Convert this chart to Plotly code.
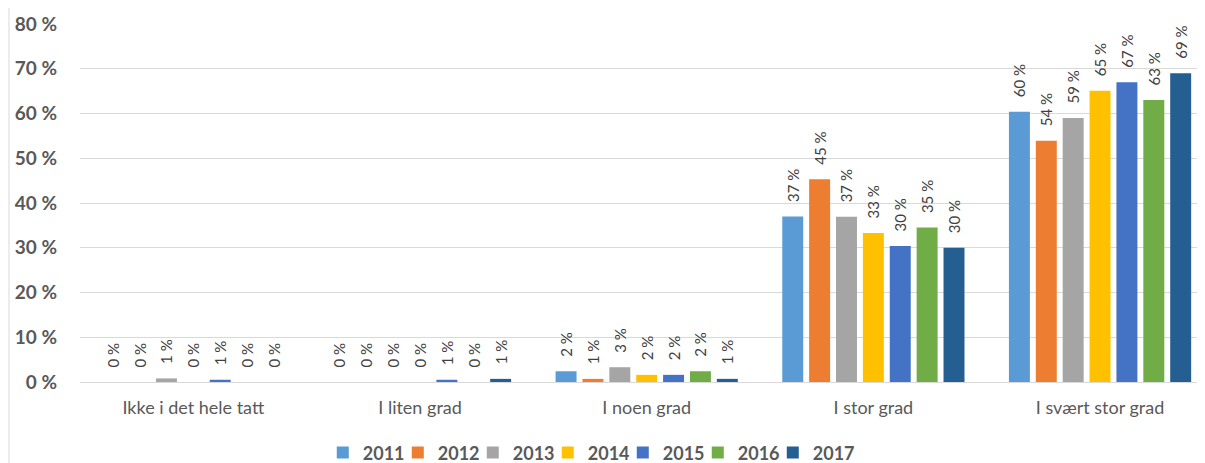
import plotly.graph_objects as go

categories = ["Ikke i det hele tatt", "I liten grad", "I noen grad", "I stor grad", "I svært stor grad"]
years = ["2011", "2012", "2013", "2014", "2015", "2016", "2017"]
colors = ["#5B9BD5", "#ED7D31", "#A5A5A5", "#FFC000", "#4472C4", "#70AD47", "#255E91"]

v2011 = [0.0, 0.0, 2.4, 37.0, 60.4]
v2012 = [0.0, 0.0, 0.7, 45.3, 53.9]
v2013 = [0.8, 0.0, 3.3, 36.9, 59.0]
v2014 = [0.0, 0.0, 1.6, 33.3, 65.1]
v2015 = [0.5, 0.5, 1.6, 30.4, 67.0]
v2016 = [0.0, 0.0, 2.4, 34.5, 63.0]
v2017 = [0.0, 0.7, 0.7, 30.0, 69.0]
series = [v2011, v2012, v2013, v2014, v2015, v2016, v2017]

yticks = [0, 10, 20, 30, 40, 50, 60, 70, 80]
ytick_labels = [f"{t} %" for t in yticks]

FONT = "Lato"
fig = go.Figure()
for name, vals, col in zip(years, series, colors):
    fig.add_trace(go.Bar(
        name=name, x=categories, y=vals,
        marker=dict(color=col, line=dict(width=0)),
        texttemplate="\u00a0\u00a0\u00a0%{y:.0f} %",
        textposition="outside", textangle=-90, constraintext="none",
        textfont=dict(family=FONT, size=15, color="#404040"),
        cliponaxis=False,
    ))
# empty spacer entry so the last legend label is not clipped
fig.add_trace(go.Scatter(x=[None], y=[None], mode="markers", name="",
                         marker=dict(color="rgba(0,0,0,0)"), hoverinfo="skip"))

fig.update_layout(
    width=1197, height=480,
    margin=dict(l=72, r=0, t=16, b=106),
    paper_bgcolor="white", plot_bgcolor="white",
    barmode="group", bargap=0.17, bargroupgap=0.22,
    font=dict(family=FONT, color="#595959"),
    showlegend=True,
    legend=dict(orientation="h", x=0.2158, xanchor="left", y=-0.198, yanchor="middle",
                font=dict(family=FONT, size=18, color="#595959", weight="bold"),
                itemwidth=30, entrywidth=30, entrywidthmode="pixels", traceorder="normal"),
    shapes=[dict(type="line", xref="paper", yref="paper", x0=-0.0631, x1=-0.0631,
                 y0=-0.3, y1=1.1, line=dict(color="#D9D9D9", width=1))],
)
fig.update_xaxes(range=[-0.5, 4.463], showgrid=False, showline=False, ticks="",
                 automargin=False,
                 tickfont=dict(family=FONT, size=18, color="#595959"),
                 ticklabelstandoff=13)
fig.update_yaxes(range=[0, 80], tickvals=yticks, ticktext=ytick_labels,
                 automargin=False,
                 showgrid=True, gridcolor="#D9D9D9", gridwidth=1,
                 zeroline=True, zerolinecolor="#D9D9D9", zerolinewidth=1,
                 showline=False, ticks="",
                 tickfont=dict(family=FONT, size=19, color="#595959", weight="bold"),
                 ticklabelstandoff=22)

fig.write_html("out.html")
